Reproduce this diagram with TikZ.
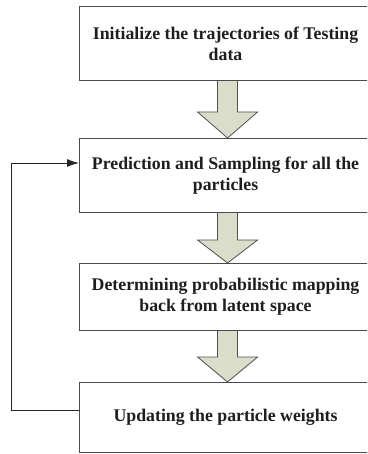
\documentclass[tikz,border=0pt]{standalone}
\usepackage{fontspec}
\setmainfont{Liberation Serif}
\usetikzlibrary{arrows.meta,calc}
\definecolor{arrfill}{HTML}{D9DDC9}
\definecolor{arrline}{HTML}{505050}
\definecolor{boxline}{HTML}{4A4A4A}
\definecolor{txt}{HTML}{1E1E1E}
\tikzset{
  stepbox/.style={draw=boxline, line width=1.1pt, fill=white, minimum width=292pt, inner sep=0pt,
    align=center, font=\fontsize{17.8}{21}\selectfont\bfseries, text=txt, anchor=north west},
  bigarrow/.style={draw=arrline, line width=0.8pt, fill=arrfill, line join=miter},
  fb/.style={draw=black!85, line width=0.9pt}
}
\begin{document}
\begin{tikzpicture}[x=1pt,y=-1pt]
\useasboundingbox (0,0) rectangle (367,454);
\clip (0,0) rectangle (367,454);
\node[stepbox, minimum height=74pt] (b1) at (79,6) {Initialize the trajectories of Testing\\data};
\node[stepbox, minimum height=74pt] (b2) at (79,138) {Prediction and Sampling for all the\\particles};
\node[stepbox, minimum height=67pt] (b3) at (79,263) {Determining probabilistic mapping\\back from latent space};
\node[stepbox, minimum height=70pt] (b4) at (79,382) {Updating the particle weights};
% block arrows
\foreach \a/\b/\h in {b1/b2/26, b2/b3/23, b3/b4/25}{
  \path ($(\a.south)+(2,0)$) coordinate (s) ($(\b.north)+(2,0)$) coordinate (t);
  \draw[bigarrow] ($(s)+(-10,0)$) -- ($(t)+(-10,-\h)$) -- ($(t)+(-30,-\h)$) -- (t)
     -- ($(t)+(30,-\h)$) -- ($(t)+(10,-\h)$) -- ($(s)+(10,0)$);
}
% feedback
\coordinate (c1) at (11,410);
\coordinate (c2) at (11,163);
\draw[fb, -{Latex[length=12pt,width=8pt]}] (b4.west |- c1) -- (c1) -- (c2) -- (b2.west |- c2);
\end{tikzpicture}
\end{document}
